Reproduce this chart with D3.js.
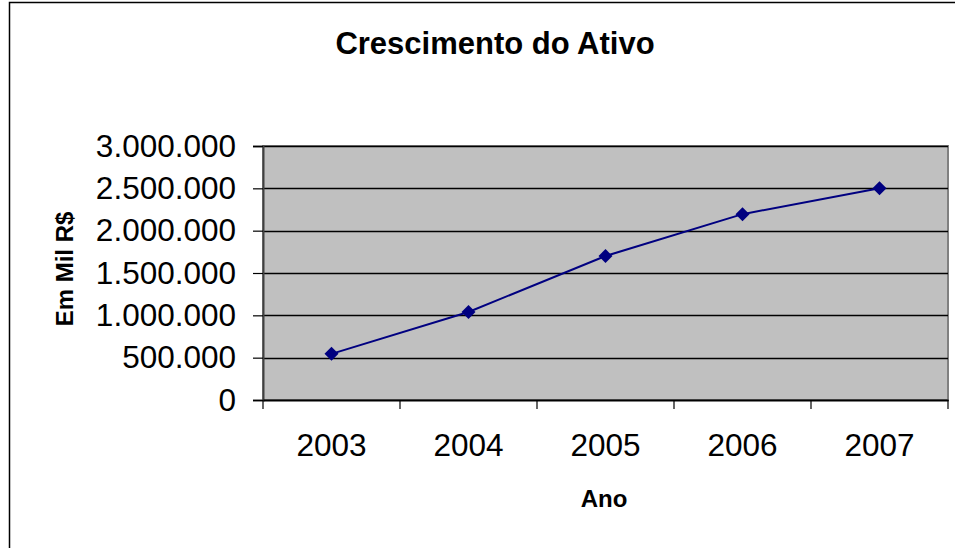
<!DOCTYPE html>
<html><head><meta charset="utf-8">
<script src="https://cdn.jsdelivr.net/npm/d3@7"></script>
<style>body{margin:0;background:#fff}svg{display:block}text{font-family:"Liberation Sans",Arial,sans-serif}</style>
</head><body>
<svg id="c" width="955" height="548"></svg>
<script>
const years = ["2003","2004","2005","2006","2007"];
const values = [545000, 1040000, 1700000, 2195000, 2500000];
const yTicks = [0,500000,1000000,1500000,2000000,2500000,3000000];
const title = "Crescimento do Ativo";
const xTitle = "Ano";
const yTitle = "Em Mil R$";

const svg = d3.select("#c");
const m = {l:263, r:948, t:146, b:400};
svg.append("rect").attr("x",9.5).attr("y",2.5).attr("width",960).attr("height",560)
  .attr("fill","#fff").attr("stroke","#000").attr("stroke-width",1.5);

const x = d3.scaleBand().domain(years).range([m.l,m.r]).padding(0);
const y = d3.scaleLinear().domain([0,3000000]).range([m.b,m.t]);
const fmt = v => v===0 ? "0" : d3.format(",")(v).replace(/,/g,".");

svg.append("rect").attr("x",m.l).attr("y",m.t).attr("width",m.r-m.l).attr("height",m.b-m.t)
  .attr("fill","#c0c0c0").attr("stroke","#808080").attr("stroke-width",2);

svg.append("g").selectAll("line").data(yTicks.filter(v=>v>0)).join("line")
  .attr("x1",m.l).attr("x2",m.r).attr("y1",d=>Math.round(y(d))+0.5).attr("y2",d=>Math.round(y(d))+0.5)
  .attr("stroke","#000").attr("stroke-width",1.5);

const ya = svg.append("g").attr("transform",`translate(${m.l},0)`)
  .call(d3.axisLeft(y).tickValues(yTicks).tickFormat(fmt).tickSize(10).tickPadding(17));
ya.select(".domain").attr("stroke","#404040").attr("stroke-width",2);
ya.selectAll(".tick line").attr("stroke","#000").attr("stroke-width",1.2);
ya.selectAll("text").attr("font-size",31.5).attr("fill","#000")
  .attr("font-family","'Liberation Sans',Arial,sans-serif");

const xa = svg.append("g").attr("transform",`translate(0,${m.b})`)
  .call(d3.axisBottom(x).tickSize(0).tickPadding(34));
xa.select(".domain").attr("stroke","#000").attr("stroke-width",2);
xa.selectAll("text").attr("font-size",31.5).attr("fill","#000")
  .attr("font-family","'Liberation Sans',Arial,sans-serif");
const bounds = years.map(d=>x(d)).concat([m.r]);
svg.append("g").selectAll("line").data(bounds).join("line")
  .attr("x1",d=>d).attr("x2",d=>d).attr("y1",m.b).attr("y2",m.b+9)
  .attr("stroke","#000").attr("stroke-width",1.2);

const line = d3.line().x((d,i)=>x(years[i])+x.bandwidth()/2).y(d=>y(d));
svg.append("path").datum(values).attr("d",line).attr("fill","none")
  .attr("stroke","#000080").attr("stroke-width",2);
svg.append("g").selectAll("path").data(values).join("path")
  .attr("transform",(d,i)=>`translate(${x(years[i])+x.bandwidth()/2},${y(d)})`)
  .attr("d","M0,-7L7,0L0,7L-7,0Z").attr("fill","#000080");

svg.append("text").attr("x",495).attr("y",54).attr("text-anchor","middle")
  .attr("font-size",31).attr("font-weight","bold").text(title);
svg.append("text").attr("x",604).attr("y",507).attr("text-anchor","middle")
  .attr("font-size",24).attr("font-weight","bold").text(xTitle);
svg.append("text").attr("transform","translate(73,269) rotate(-90)").attr("text-anchor","middle")
  .attr("font-size",24).attr("font-weight","bold").text(yTitle);
</script>
</body></html>
